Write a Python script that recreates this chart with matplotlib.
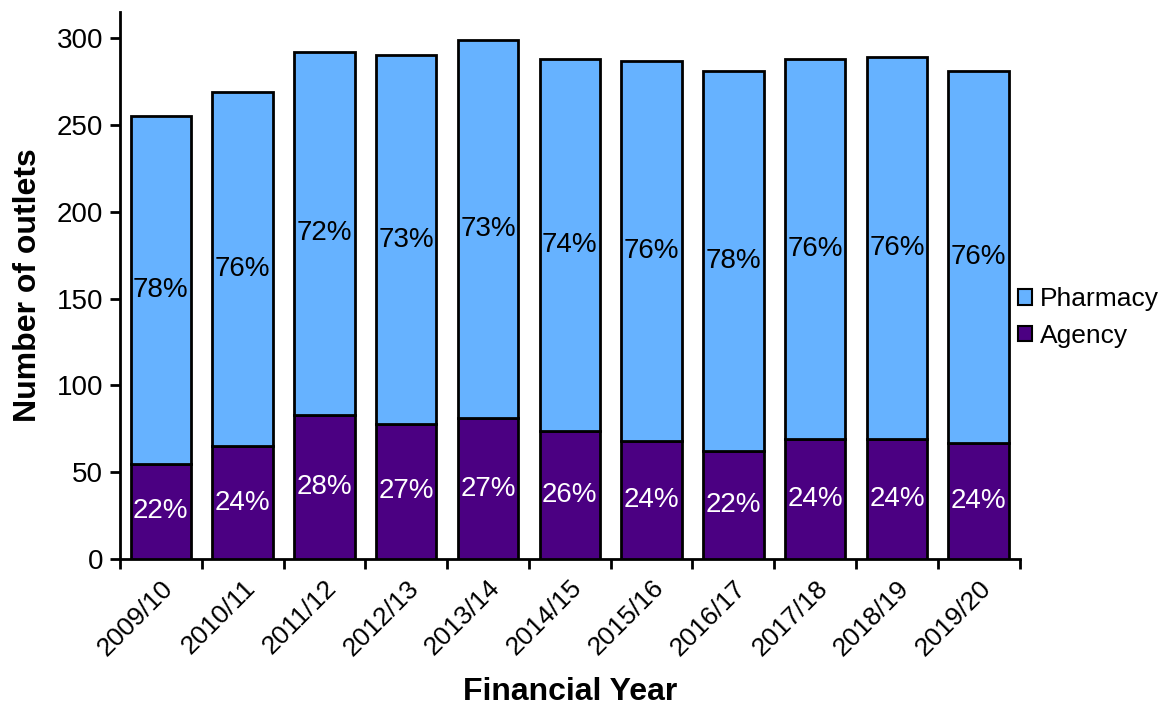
import matplotlib
matplotlib.use("Agg")
import matplotlib.pyplot as plt
import numpy as np
from matplotlib.patches import Patch

plt.rcParams['font.family'] = ['Liberation Sans', 'DejaVu Sans']

years = ["2009/10", "2010/11", "2011/12", "2012/13", "2013/14", "2014/15",
         "2015/16", "2016/17", "2017/18", "2018/19", "2019/20"]
totals = [255, 269, 292, 290, 299, 288, 287, 281, 288, 289, 281]
agency = [55, 65, 83, 78, 81, 74, 68, 62, 69, 69, 67]
agency_pct = ["22%", "24%", "28%", "27%", "27%", "26%", "24%", "22%", "24%", "24%", "24%"]
pharmacy_pct = ["78%", "76%", "72%", "73%", "73%", "74%", "76%", "78%", "76%", "76%", "76%"]

pharmacy = [t - a for t, a in zip(totals, agency)]

c_ph = "#66B2FF"
c_ag = "#4B0082"

fig = plt.figure(figsize=(11.6, 7.07), dpi=100)
ax = fig.add_axes([0.1034, 0.2093, 0.7756, 0.7737])

x = np.arange(len(years))
w = 0.74
ax.bar(x, agency, w, color=c_ag, edgecolor="black", linewidth=2, zorder=3)
ax.bar(x, pharmacy, w, bottom=agency, color=c_ph, edgecolor="black", linewidth=2, zorder=3)

for i in range(len(years)):
    ax.text(x[i], agency[i] / 2, agency_pct[i], ha="center", va="center",
            color="white", fontsize=20)
    ax.text(x[i], agency[i] + pharmacy[i] / 2, pharmacy_pct[i], ha="center",
            va="center", color="black", fontsize=20)

ax.set_xlim(-0.5, len(years) - 0.5)
ax.set_ylim(0, 315)
ax.set_yticks([0, 50, 100, 150, 200, 250, 300])
ax.tick_params(axis="y", labelsize=20, length=7, width=2, direction="out", pad=5)

ax.set_xticks(x)
ax.set_xticklabels(years, rotation=45, ha="right", rotation_mode="anchor", fontsize=19)
ax.tick_params(axis="x", length=0, pad=12)
ax.set_xticks(np.arange(-0.5, len(years), 1), minor=True)
ax.tick_params(axis="x", which="minor", length=7, width=2, direction="out")

for s in ["top", "right"]:
    ax.spines[s].set_visible(False)
for s in ["left", "bottom"]:
    ax.spines[s].set_linewidth(2)

ax.set_ylabel("Number of outlets", fontsize=23, fontweight="bold", labelpad=10)
ax.set_xlabel("Financial Year", fontsize=23, fontweight="bold", labelpad=12)

handles = [Patch(facecolor=c_ph, edgecolor="black", linewidth=1.5, label="Pharmacy"),
           Patch(facecolor=c_ag, edgecolor="black", linewidth=1.5, label="Agency")]
fig.legend(handles=handles, loc="center left", bbox_to_anchor=(0.8776, 0.551),
           frameon=False, fontsize=19, handlelength=0.53, handleheight=0.53,
           handletextpad=0.3, labelspacing=0.48, borderpad=0, borderaxespad=0)

fig.savefig("out.png", dpi=100)
